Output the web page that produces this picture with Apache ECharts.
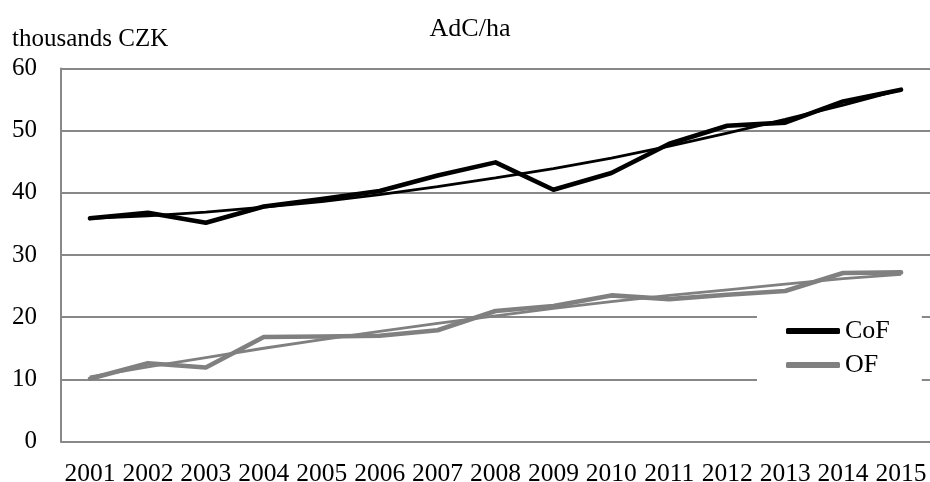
<!DOCTYPE html>
<html>
<head>
<meta charset="utf-8">
<script src="https://cdn.jsdelivr.net/npm/echarts@6/dist/echarts.min.js"></script>
<style>
  html, body { margin: 0; padding: 0; background: #fff; }
  #chart { width: 930px; height: 482px; }
</style>
</head>
<body>
<div id="chart"></div>
<script>
// Years on the horizontal axis
const years = ['2001','2002','2003','2004','2005','2006','2007','2008','2009','2010','2011','2012','2013','2014','2015'];

// AdC per hectare, thousands CZK
const cofValues = [35.9, 36.8, 35.2, 37.8, 39.0, 40.3, 42.8, 44.9, 40.5, 43.2, 47.9, 50.8, 51.3, 54.7, 56.6];
const ofValues  = [10.1, 12.6, 11.9, 16.8, 16.9, 17.0, 17.9, 21.0, 21.8, 23.5, 22.9, 23.6, 24.2, 27.1, 27.2];

// Polynomial trend lines
const cofTrend = [35.9, 36.3, 36.9, 37.7, 38.6, 39.7, 41.0, 42.4, 43.9, 45.6, 47.5, 49.6, 51.8, 54.1, 56.6];
const ofTrend  = [10.4, 12.0, 13.5, 15.0, 16.4, 17.7, 19.0, 20.2, 21.4, 22.5, 23.5, 24.4, 25.3, 26.2, 26.9];

const yTicks = { min: 0, max: 60, interval: 10 };

const FONT = '"Liberation Serif", "Times New Roman", serif';
const BLACK = '#000000';
const GREY = '#808080';
const AXIS_GREY = '#888888';

const chart = echarts.init(document.getElementById('chart'), null, { renderer: 'canvas' });

chart.setOption({
  animation: false,
  backgroundColor: '#ffffff',
  textStyle: { fontFamily: FONT, color: '#000' },
  title: [
    {
      text: 'AdC/ha',
      left: 470, top: 16, padding: 0,
      textAlign: 'center',
      textStyle: { fontFamily: FONT, fontSize: 26, fontWeight: 'normal', color: '#000' }
    },
    {
      text: 'thousands CZK',
      left: 12, top: 27, padding: 0,
      textStyle: { fontFamily: FONT, fontSize: 25, fontWeight: 'normal', color: '#000' }
    }
  ],
  legend: {
    data: ['CoF', 'OF'],
    orient: 'vertical',
    left: 757, top: 314,
    width: 164,
    padding: [4, 32, 6, 29],
    backgroundColor: '#ffffff',
    icon: 'roundRect',
    itemWidth: 54,
    itemHeight: 6,
    itemGap: 8,
    textStyle: { fontFamily: FONT, fontSize: 26, color: '#000', padding: [0, 0, 0, 0] }
  },
  grid: {
    left: 61, right: 0, top: 68.5, bottom: 40.5,
    containLabel: false,
    outerBoundsMode: 'none'
  },
  xAxis: {
    type: 'category',
    data: years,
    boundaryGap: true,
    axisLine: { show: true, lineStyle: { color: AXIS_GREY, width: 2 } },
    axisTick: { show: false },
    axisLabel: { fontFamily: FONT, fontSize: 25.5, color: '#000', margin: 20, interval: 0 },
    splitLine: { show: false }
  },
  yAxis: {
    type: 'value',
    min: yTicks.min, max: yTicks.max, interval: yTicks.interval,
    axisLine: { show: true, lineStyle: { color: AXIS_GREY, width: 2 } },
    axisTick: { show: false },
    axisLabel: { fontFamily: FONT, fontSize: 25, color: '#000', margin: 24 },
    splitLine: { show: true, lineStyle: { color: AXIS_GREY, width: 2 } }
  },
  series: [
    {
      name: 'CoF trend', type: 'line', data: cofTrend,
      symbol: 'none', z: 2, silent: true,
      lineStyle: { color: BLACK, width: 2.8 }, itemStyle: { color: BLACK }
    },
    {
      name: 'OF trend', type: 'line', data: ofTrend,
      symbol: 'none', z: 2, silent: true,
      lineStyle: { color: GREY, width: 2.8 }, itemStyle: { color: GREY }
    },
    {
      name: 'CoF', type: 'line', data: cofValues,
      symbol: 'none', z: 3,
      lineStyle: { color: BLACK, width: 4.6, cap: 'round', join: 'round' }, itemStyle: { color: BLACK }
    },
    {
      name: 'OF', type: 'line', data: ofValues,
      symbol: 'none', z: 3,
      lineStyle: { color: GREY, width: 4.6, cap: 'round', join: 'round' }, itemStyle: { color: GREY }
    }
  ]
});
</script>
</body>
</html>
